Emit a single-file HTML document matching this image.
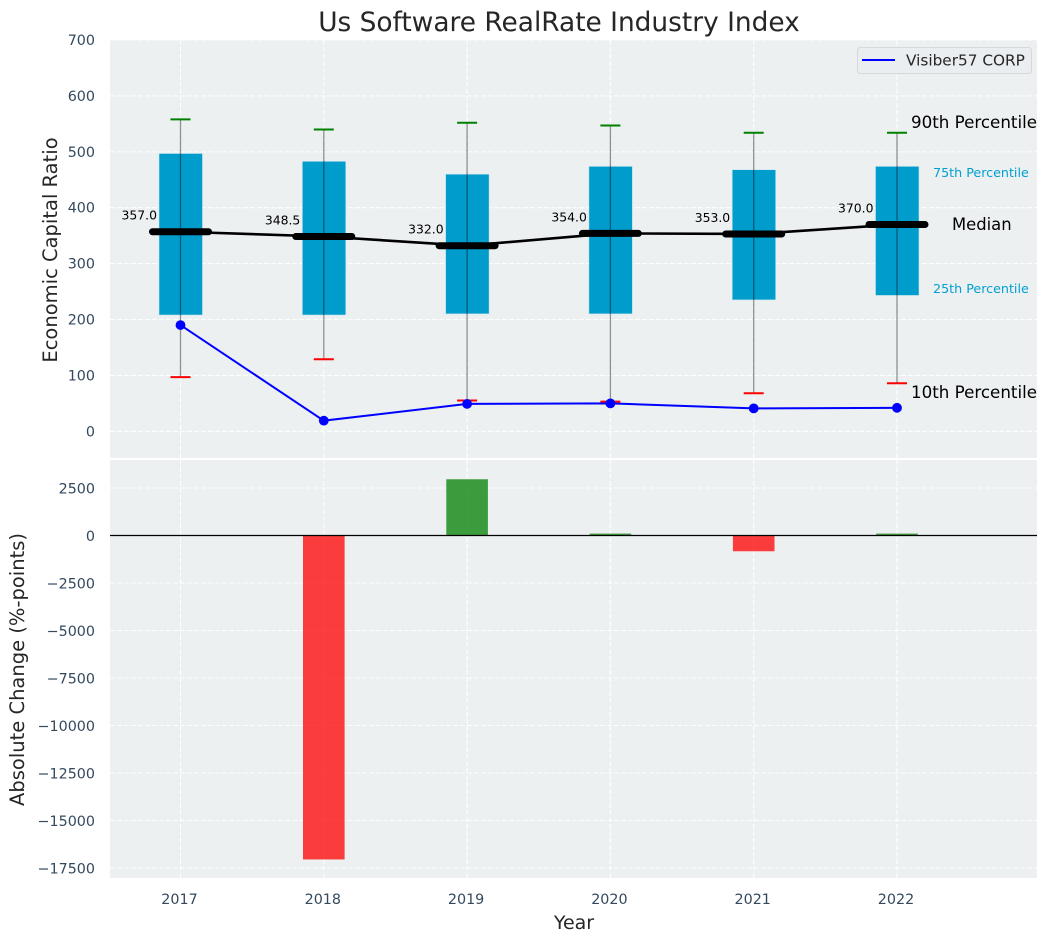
<!DOCTYPE html>
<html lang="en">
<head>
<meta charset="utf-8">
<title>Us Software RealRate Industry Index</title>
<style>
html,body{margin:0;padding:0;background:#fff;width:1048px;height:942px;overflow:hidden}
svg{display:block;font-family:"DejaVu Sans","Liberation Sans",sans-serif}
</style>
</head>
<body>
<svg id="chart" xmlns="http://www.w3.org/2000/svg" width="1048" height="942" viewBox="0 0 1048 942">
  <rect x="110" y="40" width="927" height="418" fill="#ecf0f1"/>
  <rect x="110" y="460" width="927" height="418" fill="#ecf0f1"/>
  <g id="grid"></g>
  <g id="top-marks"></g>
  <g id="bottom-marks"></g>
  <g id="ticks"></g>
  <text x="559" y="31" font-size="26.4" text-anchor="middle" fill="#262626">Us Software RealRate Industry Index</text>
  <text transform="translate(57,250) rotate(-90)" font-size="19.5" text-anchor="middle" fill="#262626">Economic Capital Ratio</text>
  <text transform="translate(24,669.5) rotate(-90)" font-size="19.5" text-anchor="middle" fill="#262626">Absolute Change (%-points)</text>
  <text x="574" y="929" font-size="19" text-anchor="middle" fill="#262626">Year</text>
  <g>
    <rect x="857.5" y="47.5" width="174" height="26" rx="3" fill="#eaeef0" stroke="#d5d8dc"/>
    <line x1="862" y1="60" x2="895" y2="60" stroke="#0000ff" stroke-width="2"/>
    <text x="906" y="65.5" font-size="15.3" fill="#262626">Visiber57 CORP</text>
  </g>
  <g>
    <text x="911" y="128" font-size="16.7" fill="#000">90th Percentile</text>
    <text x="933" y="177" font-size="12.7" fill="#00a0d0">75th Percentile</text>
    <text x="952" y="230" font-size="16.4" fill="#000">Median</text>
    <text x="933" y="293" font-size="12.7" fill="#00a0d0">25th Percentile</text>
    <text x="911" y="398" font-size="16.7" fill="#000">10th Percentile</text>
  </g>
</svg>
<script>
const years = [2017, 2018, 2019, 2020, 2021, 2022];
const p90 = [558, 540, 552, 547, 534, 534];
const p75 = [497, 483, 460, 474, 468, 474];
const medians = [357, 348.5, 332, 354, 353, 370];
const p25 = [208, 208, 210, 210, 235, 243];
const p10 = [97, 129, 55, 53, 68, 86];
const companyValues = [190, 19, 49, 50, 41, 42];
const absoluteChange = [null, -17050, 2960, 100, -830, 100];
const topTicks = [0, 100, 200, 300, 400, 500, 600, 700];
const bottomTicks = [2500, 0, -2500, -5000, -7500, -10000, -12500, -15000, -17500];

const SVGNS = 'http://www.w3.org/2000/svg';
const xScale = v => 180.5 + (v - 2017) * 143.3;
const yTop = v => 431.3 - v * (391.3 / 700);
const yBottom = v => 535.5 - v * 0.019;
const gridG = document.getElementById('grid');
const topG = document.getElementById('top-marks');
const botG = document.getElementById('bottom-marks');
const tickG = document.getElementById('ticks');

function mk(parent, tag, props, text) {
  const n = document.createElementNS(SVGNS, tag);
  for (const k in props) n.setAttribute(k, props[k]);
  if (text !== undefined) n.textContent = text;
  parent.appendChild(n);
  return n;
}
const gridStyle = {stroke: '#ffffff', 'stroke-width': 1.1, 'stroke-dasharray': '5 2', 'stroke-opacity': 0.9};

topTicks.forEach(t => {
  const gl = mk(gridG, 'line', Object.assign({x1: 110, x2: 1037, y1: yTop(t), y2: yTop(t)}, gridStyle));
  
  
  const tl = mk(tickG, 'text', {x: 95, y: yTop(t) + 5, 'font-size': 14.3, 'text-anchor': 'end', fill: '#34495e'}, String(t));
  
  
});
bottomTicks.forEach(t => {
  const gl = mk(gridG, 'line', Object.assign({x1: 110, x2: 1037, y1: yBottom(t), y2: yBottom(t)}, gridStyle));
  
  
  const tl = mk(tickG, 'text', {x: 95, y: yBottom(t) + 5.5, 'font-size': 14.3, 'text-anchor': 'end', fill: '#34495e'}, String(t).replace('-', '\u2212'));
  
  
});
years.forEach(yr => {
  const a = mk(gridG, 'line', Object.assign({x1: xScale(yr), x2: xScale(yr), y1: 40, y2: 458}, gridStyle));
  
  
  const b = mk(gridG, 'line', Object.assign({x1: xScale(yr), x2: xScale(yr), y1: 460, y2: 878}, gridStyle));
  
  
  const tl = mk(tickG, 'text', {x: xScale(yr) - 1, y: 904, 'font-size': 14.3, 'text-anchor': 'middle', fill: '#34495e'}, String(yr));
  
  
});

/* percentile boxes */
years.forEach((yr, i) => {
  const box = mk(topG, 'rect', {x: xScale(yr) - 21.5, y: yTop(p75[i]), width: 43.5, height: yTop(p25[i]) - yTop(p75[i]), fill: '#009ccc', stroke: '#cfe6ef', 'stroke-width': 0.6});
  
  
});

/* median connecting line */
const medianLine = mk(topG, 'polyline', {points: years.map((yr, i) => xScale(yr) + ',' + yTop(medians[i])).join(' '), fill: 'none', stroke: '#000', 'stroke-width': 2.6});



/* whiskers and caps */
years.forEach((yr, i) => {
  const cx = xScale(yr);
  const w = mk(topG, 'line', {x1: cx, x2: cx, y1: yTop(p90[i]), y2: yTop(p10[i]), stroke: '#000', 'stroke-opacity': 0.42, 'stroke-width': 1.3});
  
  
  const hi = mk(topG, 'line', {x1: cx - 10, x2: cx + 10, y1: yTop(p90[i]), y2: yTop(p90[i]), stroke: '#008000', 'stroke-width': 2});
  
  
  const lo = mk(topG, 'line', {x1: cx - 10, x2: cx + 10, y1: yTop(p10[i]), y2: yTop(p10[i]), stroke: '#ff0000', 'stroke-width': 2});
  
  
});

/* median bars and value labels */
years.forEach((yr, i) => {
  const cx = xScale(yr);
  const m = mk(topG, 'line', {x1: cx - 28, x2: cx + 28, y1: yTop(medians[i]), y2: yTop(medians[i]), stroke: '#000', 'stroke-width': 7, 'stroke-linecap': 'round'});
  
  
  const t = mk(topG, 'text', {x: cx - 23.5, y: yTop(medians[i]) - 12, 'font-size': 12.4, 'text-anchor': 'end', fill: '#000'}, medians[i].toFixed(1));
  
  
});

/* company series */
const companyLine = mk(topG, 'polyline', {points: years.map((yr, i) => xScale(yr) + ',' + yTop(companyValues[i])).join(' '), fill: 'none', stroke: '#0000ff', 'stroke-width': 2});


years.forEach((yr, i) => {
  const p = mk(topG, 'circle', {cx: xScale(yr), cy: yTop(companyValues[i]), r: 4.9, fill: '#0000ff'});
  
  
});

/* change bars */
years.forEach((yr, i) => {
  const v = absoluteChange[i];
  if (v === null) return;
  const top = Math.min(yBottom(v), yBottom(0));
  const b = mk(botG, 'rect', {x: xScale(yr) - 20.8, y: top, width: 41.6, height: Math.abs(yBottom(v) - yBottom(0)), fill: v < 0 ? '#ff0000' : '#008000', 'fill-opacity': 0.75});
  
  
});
const zero = mk(botG, 'line', {x1: 110, x2: 1037, y1: yBottom(0), y2: yBottom(0), stroke: '#000', 'stroke-width': 1.3});


</script>
</body>
</html>
